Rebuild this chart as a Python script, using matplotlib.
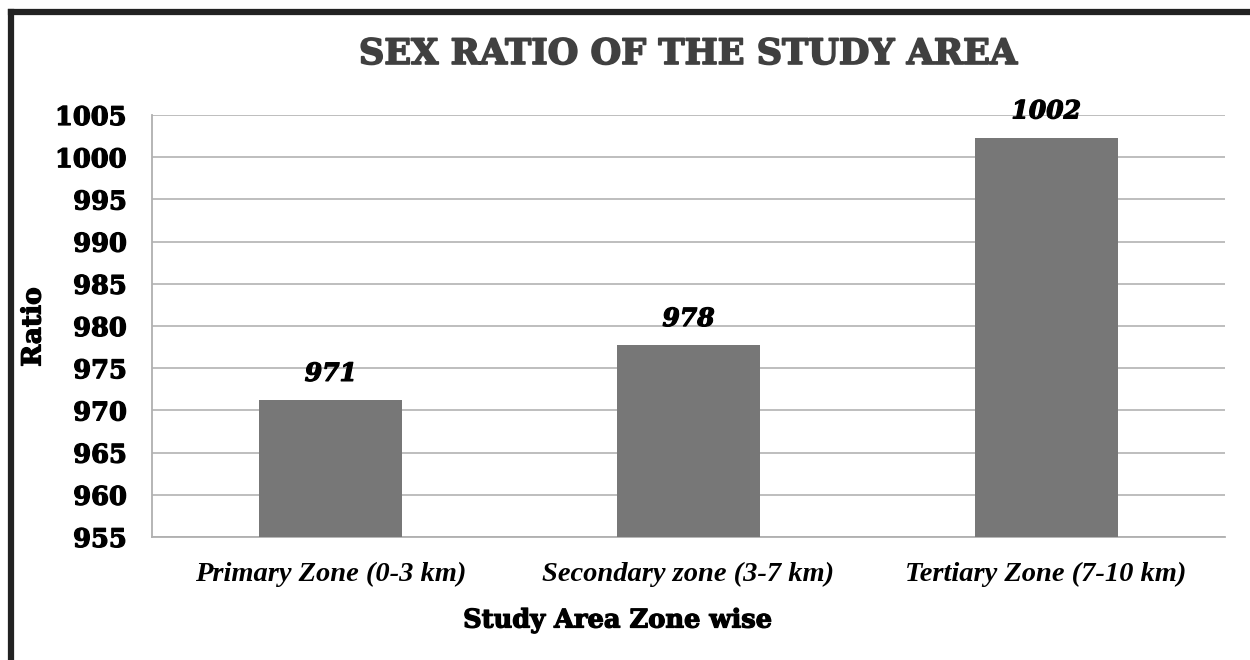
import matplotlib.pyplot as plt
import matplotlib.patheffects as pe
from matplotlib.lines import Line2D

# Sex ratio (females per 1000 males) by zone
zones = ["Primary Zone (0-3 km)", "Secondary zone (3-7 km)", "Tertiary Zone (7-10 km)"]
ratio = [971.2, 977.7, 1002.3]
yticks = list(range(955, 1006, 5))

W, H = 1250, 660
fig = plt.figure(figsize=(W / 100, H / 100), dpi=100)
ax = fig.add_axes([152 / W, 1 - 537 / H, (1225 - 152) / W, (537 - 115) / H])

# thicker strokes to get a heavier serif look
heavy = [pe.withStroke(linewidth=0.9, foreground="black")]
heavy_title = [pe.withStroke(linewidth=1.2, foreground="#404040")]

x = range(len(zones))
bars = ax.bar(x, ratio, width=0.4, color="#777777", zorder=3)

ax.set_xlim(-0.5, len(zones) - 0.5)
ax.set_ylim(955, 1005)
ax.set_yticks(yticks)
ax.set_yticklabels([str(t) for t in yticks], fontfamily="DejaVu Serif",
                   fontweight="bold", fontsize=18.5, path_effects=heavy)
ax.set_xticks(list(x))
ax.set_xticklabels(zones, fontfamily="Liberation Serif", fontweight="bold",
                   fontstyle="italic", fontsize=20.5)
ax.tick_params(axis="y", length=0, pad=18)
ax.tick_params(axis="x", length=0, pad=18)

ax.grid(axis="y", color="#b3b3b3", linewidth=1.2, zorder=0)
for side in ["top", "right"]:
    ax.spines[side].set_visible(False)
for side in ["left", "bottom"]:
    ax.spines[side].set_color("#b0b0b0")
    ax.spines[side].set_linewidth(1.3)

# value labels above bars
for b, v in zip(bars, ratio):
    ax.annotate(f"{v:.0f}", (b.get_x() + b.get_width() / 2, v),
                xytext=(0, 19), textcoords="offset points", ha="center", va="center",
                fontfamily="DejaVu Serif", fontweight="bold", fontstyle="italic",
                fontsize=18, zorder=4, path_effects=heavy)

fig.text(688 / W, 1 - 54 / H, "SEX RATIO OF THE STUDY AREA", ha="center", va="center",
         fontfamily="DejaVu Serif", fontweight="bold", fontsize=25.3, color="#404040",
         path_effects=heavy_title)
fig.text(618 / W, 1 - 620 / H, "Study Area Zone wise", ha="center", va="center",
         fontfamily="DejaVu Serif", fontweight="bold", fontsize=18.5, path_effects=heavy)
fig.text(33 / W, 1 - 327 / H, "Ratio", ha="center", va="center", rotation=90,
         fontfamily="DejaVu Serif", fontweight="bold", fontsize=19, path_effects=heavy)

# dark frame around the chart (top and left edges)
fx, fy = 11 / W, 1 - 12 / H
fig.add_artist(Line2D([fx, fx], [0, fy], transform=fig.transFigure,
                      color="#222222", linewidth=4.5, solid_capstyle="projecting"))
fig.add_artist(Line2D([fx, 1], [fy, fy], transform=fig.transFigure,
                      color="#222222", linewidth=4.5, solid_capstyle="projecting"))

fig.savefig("out.png", dpi=100)
